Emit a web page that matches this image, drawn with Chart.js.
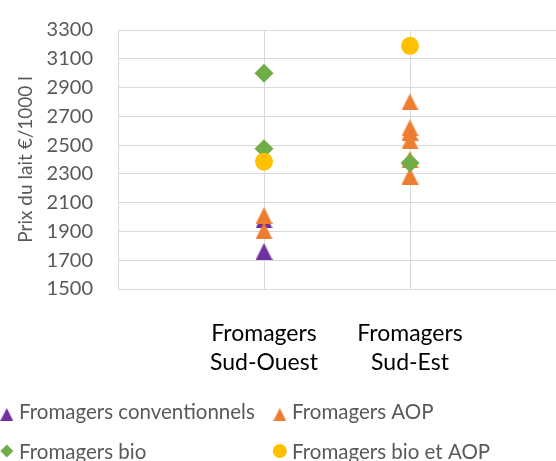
<!DOCTYPE html>
<html>
<head>
<meta charset="utf-8">
<script src="https://cdn.jsdelivr.net/npm/chart.js@4.4.0/dist/chart.umd.min.js"></script>
<style>
  html, body { margin: 0; padding: 0; background: #fff; }
  #wrap { width: 556px; height: 461px; }
</style>
</head>
<body>
<div id="wrap"><canvas id="myChart"></canvas></div>
<script>
// categories sit on x = 1 and x = 2 of a 0..3 axis
const regions = [['Fromagers', 'Sud-Ouest'], ['Fromagers', 'Sud-Est']];
const regionPos = [1, 2];

const seriesNames = ['Fromagers conventionnels', 'Fromagers AOP', 'Fromagers bio', 'Fromagers bio et AOP'];

// prices €/1000 l, one list per region
const conventionnels = [[1980, 1760], []];
const aop = [[2010, 1905], [2800, 2620, 2590, 2530, 2400, 2285]];
const bio = [[3000, 2475], [2375]];
const bioAop = [[2385], [3190]];

const yTicks = [1500, 1700, 1900, 2100, 2300, 2500, 2700, 2900, 3100, 3300];

const FONT = 'Lato, "Open Sans", sans-serif';

function toPoints(list) {
    const pts = [];
    list.forEach(function (vals, i) {
        vals.forEach(function (v) { pts.push({ x: regionPos[i], y: v }); });
    });
    return pts;
}

// excel-like triangle (as tall as wide, centred on its box)
function triangle(color, size) {
    const cv = document.createElement('canvas');
    cv.width = size;
    cv.height = size;
    const g = cv.getContext('2d');
    g.fillStyle = color;
    g.beginPath();
    g.moveTo(size / 2, 0);
    g.lineTo(size, size);
    g.lineTo(0, size);
    g.closePath();
    g.fill();
    return cv;
}

const purple = '#7030a0', orange = '#ed7d31', green = '#70ad47', yellow = '#ffc000';

const legendStyles = [triangle(purple, 13), triangle(orange, 13), 'rectRot', 'circle'];
const legendRadius = [0, 0, 6.5, 7];

const bottomLegend = {
    id: 'bottomLegend',
    afterDraw(chart) {
        const c = chart.ctx;
        const cols = [0, 273];
        const rows = [412, 452];
        const markerY = [414.5, 451];
        c.save();
        c.font = '20.5px ' + FONT;
        c.textBaseline = 'middle';
        c.textAlign = 'left';
        chart.data.datasets.forEach(function (ds, i) {
            const x = cols[i % 2];
            const r = Math.floor(i / 2);
            c.fillStyle = ds.backgroundColor;
            Chart.helpers.drawPoint(c, { pointStyle: legendStyles[i], radius: legendRadius[i], borderWidth: 0, rotation: 0 }, x + 6.8, markerY[r]);
            c.fillStyle = '#595959';
            c.fillText(ds.label, x + 19, rows[r]);
        });
        c.restore();
    }
};

const ctx = document.getElementById('myChart');

new Chart(ctx, {
    type: 'scatter',
    data: {
        datasets: [{
            label: seriesNames[0],
            data: toPoints(conventionnels),
            backgroundColor: purple,
            pointStyle: triangle(purple, 17),
            pointRadius: 9,
            order: 3
        }, {
            label: seriesNames[1],
            data: toPoints(aop),
            backgroundColor: orange,
            pointStyle: triangle(orange, 17),
            pointRadius: 9,
            order: 2
        }, {
            label: seriesNames[2],
            data: toPoints(bio),
            backgroundColor: green,
            pointStyle: 'rectRot',
            pointRadius: 9.5,
            order: 1
        }, {
            label: seriesNames[3],
            data: toPoints(bioAop),
            backgroundColor: yellow,
            pointStyle: 'circle',
            pointRadius: 9,
            order: 0
        }]
    },
    options: {
        responsive: true,
        maintainAspectRatio: false,
        animation: false,
        events: [],
        elements: { point: { borderWidth: 0 } },
        layout: { autoPadding: false, padding: { top: 30, left: 0, right: 0, bottom: 72 } },
        plugins: {
            legend: { display: false },
            tooltip: { enabled: false }
        },
        scales: {
            x: {
                type: 'linear',
                min: 0,
                max: 3,
                afterFit: function (scale) {
                    scale.height = 100;
                    scale.paddingLeft = 0;
                    scale.paddingRight = 0;
                },
                afterBuildTicks: function (scale) {
                    scale.ticks = [0, 1, 2, 3].map(function (v) { return { value: v }; });
                },
                grid: {
                    color: function (c) { return c.tick && c.tick.value === 3 ? 'rgba(0,0,0,0)' : '#d9d9d9'; },
                    drawTicks: false
                },
                border: { color: '#d9d9d9' },
                ticks: {
                    padding: 30,
                    color: '#000',
                    font: { family: FONT, size: 23, lineHeight: 1.25 },
                    maxRotation: 0,
                    autoSkip: false,
                    callback: function (value) {
                        const i = regionPos.indexOf(value);
                        return i >= 0 ? regions[i] : '';
                    }
                }
            },
            y: {
                min: yTicks[0],
                max: yTicks[yTicks.length - 1],
                afterFit: function (scale) {
                    scale.width = 118;
                    scale.paddingTop = 0;
                    scale.paddingBottom = 0;
                },
                afterBuildTicks: function (scale) {
                    scale.ticks = yTicks.map(function (v) { return { value: v }; });
                },
                grid: { color: '#d9d9d9', drawTicks: false },
                border: { color: '#d9d9d9' },
                title: {
                    display: true,
                    text: 'Prix du lait €/1000 l',
                    color: '#595959',
                    font: { family: FONT, size: 19 },
                    padding: { top: 14, bottom: 0 }
                },
                ticks: {
                    padding: 25,
                    color: '#595959',
                    font: { family: FONT, size: 20 },
                    callback: function (value) { return String(value); }
                }
            }
        }
    },
    plugins: [bottomLegend]
});
</script>
</body>
</html>
